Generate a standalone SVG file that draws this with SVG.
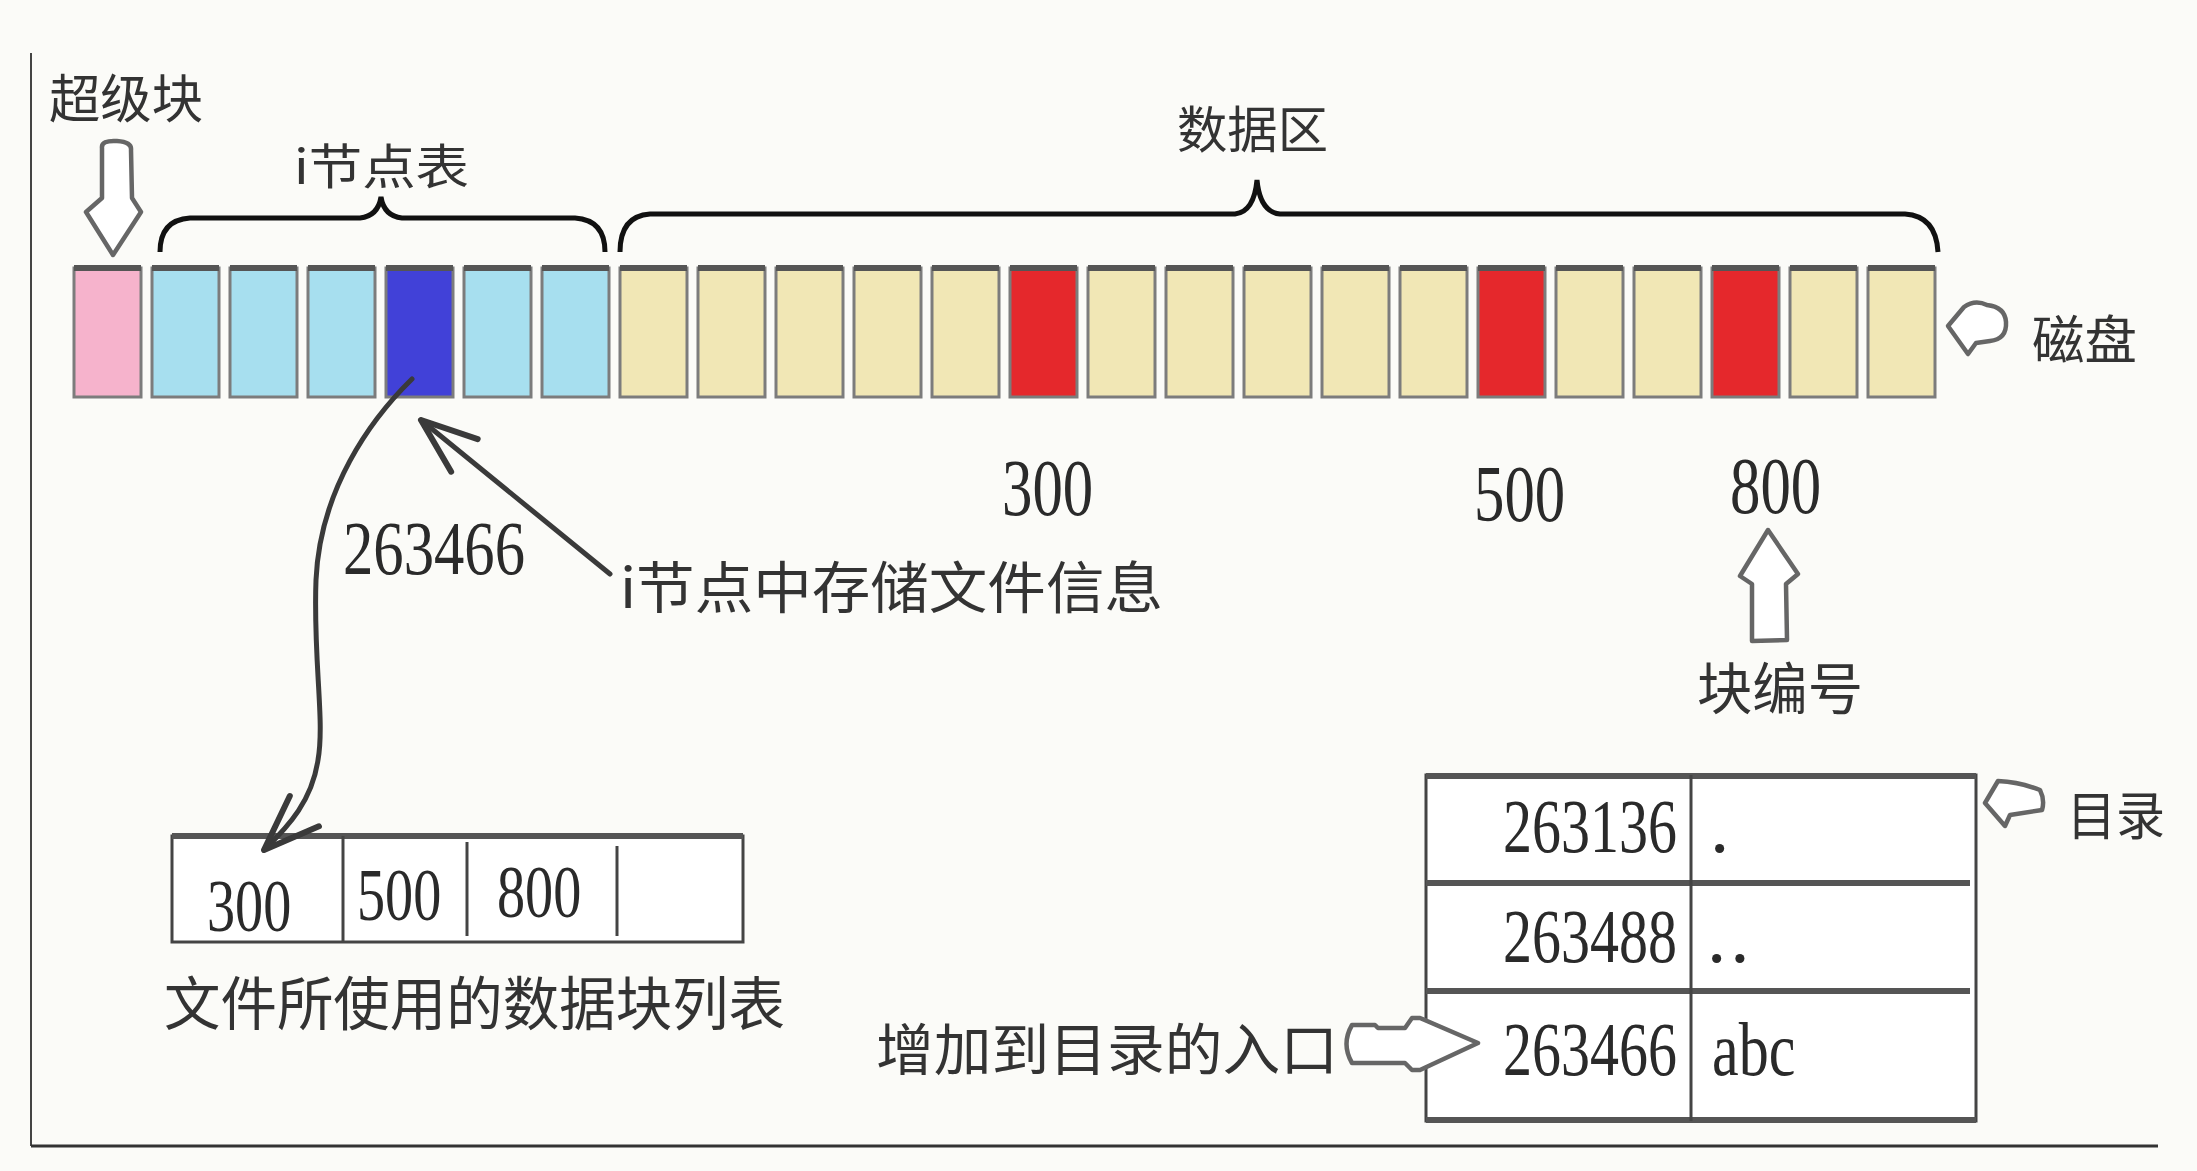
<svg xmlns="http://www.w3.org/2000/svg" width="2197" height="1171" viewBox="0 0 2197 1171">
<style>
.cjk{font-family:"Noto Sans CJK SC","Noto Sans",sans-serif;fill:#333;}
.num{font-family:"Liberation Serif","DejaVu Serif",serif;fill:#2a2a2a;}
.blk{stroke:#7c7c7c;stroke-width:3;}
.top{stroke:#555;stroke-width:6;}
.pink{fill:#f6b3cc;}
.cyan{fill:#a7dfef;}
.blue{fill:#4141d8;}
.yel{fill:#f1e7b5;}
.red{fill:#e5282c;}
.hollow{fill:#fff;stroke:#666;stroke-width:4.5;stroke-linejoin:round;}
.brace{fill:none;stroke:#111;stroke-width:5;}
.line{fill:none;stroke:#3a3a3a;stroke-width:5;stroke-linecap:round;}
.tbl{fill:#fff;stroke:#444;stroke-width:3;}
.thick{stroke:#555;stroke-width:6;}
.thin{stroke:#444;stroke-width:3;}
</style>
<defs>
<marker id="vhead" viewBox="-60 -25 66 50" refX="0" refY="0" markerWidth="66" markerHeight="50" markerUnits="userSpaceOnUse" orient="auto">
<path d="M-56,-21 L0,0 L-56,21" fill="none" stroke="#3a3a3a" stroke-width="6" stroke-linejoin="round" stroke-linecap="round"/>
</marker>
</defs>
<rect x="0" y="0" width="2197" height="1171" fill="#fbfbf8"/>
<g id="frame">
<line x1="31" y1="53" x2="31" y2="1146" stroke="#444" stroke-width="2"/>
<line x1="31" y1="1146" x2="2158" y2="1146" stroke="#333" stroke-width="3"/>
</g>
<g id="disk">
<g id="blocks">
<rect class="blk pink" x="74" y="268" width="67" height="129"/>
<rect class="blk cyan" x="152" y="268" width="67" height="129"/>
<rect class="blk cyan" x="230" y="268" width="67" height="129"/>
<rect class="blk cyan" x="308" y="268" width="67" height="129"/>
<rect class="blk blue" x="386" y="268" width="67" height="129"/>
<rect class="blk cyan" x="464" y="268" width="67" height="129"/>
<rect class="blk cyan" x="542" y="268" width="67" height="129"/>
<rect class="blk yel" x="620" y="268" width="67" height="129"/>
<rect class="blk yel" x="698" y="268" width="67" height="129"/>
<rect class="blk yel" x="776" y="268" width="67" height="129"/>
<rect class="blk yel" x="854" y="268" width="67" height="129"/>
<rect class="blk yel" x="932" y="268" width="67" height="129"/>
<rect class="blk red" x="1010" y="268" width="67" height="129"/>
<rect class="blk yel" x="1088" y="268" width="67" height="129"/>
<rect class="blk yel" x="1166" y="268" width="67" height="129"/>
<rect class="blk yel" x="1244" y="268" width="67" height="129"/>
<rect class="blk yel" x="1322" y="268" width="67" height="129"/>
<rect class="blk yel" x="1400" y="268" width="67" height="129"/>
<rect class="blk red" x="1478" y="268" width="67" height="129"/>
<rect class="blk yel" x="1556" y="268" width="67" height="129"/>
<rect class="blk yel" x="1634" y="268" width="67" height="129"/>
<rect class="blk red" x="1712" y="268" width="67" height="129"/>
<rect class="blk yel" x="1790" y="268" width="67" height="129"/>
<rect class="blk yel" x="1868" y="268" width="67" height="129"/>
</g>
<g id="blocktops">
<path class="top" d="M74,268h67M152,268h67M230,268h67M308,268h67M386,268h67M464,268h67M542,268h67M620,268h67M698,268h67M776,268h67M854,268h67M932,268h67M1010,268h67M1088,268h67M1166,268h67M1244,268h67M1322,268h67M1400,268h67M1478,268h67M1556,268h67M1634,268h67M1712,268h67M1790,268h67M1868,268h67"/>
</g>
</g>
<g id="superblock-label">
<text class="cjk" x="49" y="118" font-size="52" textLength="154" lengthAdjust="spacingAndGlyphs">超级块</text>
<path class="hollow" d="M102,148 Q101,140 117,141 Q132,142 131,150 L132,198 L141,212 L113,255 L86,212 L102,198 Z"/>
</g>
<g id="inode-table-label">
<text class="cjk" x="294" y="184" font-size="48" textLength="175" lengthAdjust="spacingAndGlyphs">i节点表</text>
<path class="brace" d="M160,252 Q160,220 190,218 L360,218 Q378,216 381,197 Q384,216 402,218 L575,218 Q605,220 605,252"/>
</g>
<g id="data-area-label">
<text class="cjk" x="1177" y="148" font-size="50" textLength="151" lengthAdjust="spacingAndGlyphs">数据区</text>
<path class="brace" d="M620,252 Q620,216 650,214 L1235,214 Q1254,212 1257,180 Q1260,212 1280,214 L1905,214 Q1936,216 1938,252"/>
</g>
<g id="disk-label">
<path class="hollow" d="M1948,326 L1964,307 Q1975,299 1987,305 Q2005,307 2006,322 Q2007,339 1990,341 L1976,343 L1968,354 Z"/>
<text class="cjk" x="2032" y="359" font-size="52" textLength="105" lengthAdjust="spacingAndGlyphs">磁盘</text>
</g>
<g id="block-numbers">
<text class="num" transform="translate(1002,515) scale(0.76,1)" font-size="80">300</text>
<text class="num" transform="translate(1474,521) scale(0.76,1)" font-size="80">500</text>
<text class="num" transform="translate(1730,513) scale(0.76,1)" font-size="80">800</text>
</g>
<g id="block-number-label">
<path class="hollow" d="M1768,530 L1798,574 L1786,584 L1787,640 L1752,641 L1752,584 L1740,576 Z"/>
<text class="cjk" x="1697" y="709" font-size="56" textLength="166" lengthAdjust="spacingAndGlyphs">块编号</text>
</g>
<g id="inode-info">
<text class="num" transform="translate(343,574) scale(0.788,1)" font-size="77">263466</text>
<text class="cjk" x="620" y="608" font-size="56" textLength="543" lengthAdjust="spacingAndGlyphs">i节点中存储文件信息</text>
</g>
<g id="block-list">
<rect class="tbl" x="172" y="836" width="571" height="106"/>
<line class="thick" x1="172" y1="836" x2="743" y2="836"/>
<line class="thin" x1="343" y1="836" x2="343" y2="942"/>
<line class="thin" x1="467" y1="842" x2="467" y2="936"/>
<line class="thin" x1="617" y1="846" x2="617" y2="936"/>
<text class="num" transform="translate(207,931) scale(0.76,1)" font-size="74">300</text>
<text class="num" transform="translate(357,920) scale(0.76,1)" font-size="74">500</text>
<text class="num" transform="translate(497,917) scale(0.76,1)" font-size="74">800</text>
<text class="cjk" x="164" y="1025" font-size="58" textLength="621" lengthAdjust="spacingAndGlyphs">文件所使用的数据块列表</text>
</g>
<g id="directory">
<rect class="tbl" x="1426" y="775" width="550" height="346"/>
<line class="thick" x1="1426" y1="776" x2="1976" y2="776"/>
<line class="thick" x1="1426" y1="883" x2="1970" y2="883"/>
<line class="thick" x1="1426" y1="991" x2="1970" y2="991"/>
<line class="thick" x1="1426" y1="1120" x2="1976" y2="1120"/>
<line class="thin" x1="1691" y1="775" x2="1691" y2="1121"/>
<text class="num" transform="translate(1503,852) scale(0.753,1)" font-size="77">263136</text>
<text class="num" transform="translate(1503,962) scale(0.753,1)" font-size="77">263488</text>
<text class="num" transform="translate(1503,1075) scale(0.753,1)" font-size="77">263466</text>
<text class="num" x="1710" y="852" font-size="77">.</text>
<text class="num" x="1707" y="962" font-size="77" letter-spacing="4">..</text>
<text class="num" transform="translate(1712,1075) scale(0.78,1)" font-size="77">abc</text>
</g>
<g id="directory-label">
<path class="hollow" d="M1985,803 L1998,781 Q2020,782 2040,790 Q2045,800 2042,810 L2010,815 L2005,826 Z"/>
<text class="cjk" x="2067" y="835" font-size="52" textLength="98" lengthAdjust="spacingAndGlyphs">目录</text>
</g>
<g id="entry-label">
<text class="cjk" x="876" y="1070" font-size="56" textLength="462" lengthAdjust="spacingAndGlyphs">增加到目录的入口</text>
<path class="hollow" d="M1352,1025 L1375,1025 L1378,1028 L1405,1028 L1412,1018 L1420,1018 L1478,1043 L1420,1070 L1412,1070 L1405,1063 L1352,1063 Q1341,1044 1352,1025 Z"/>
</g>
<g id="connectors">
<path class="line" d="M610,574 L421,420" marker-end="url(#vhead)"/>
<path class="line" d="M412,379 C370,420 320,490 316,580 C313,660 325,720 318,760 C312,800 290,825 264,850" marker-end="url(#vhead)" stroke-width="4"/>
</g>
</svg>
